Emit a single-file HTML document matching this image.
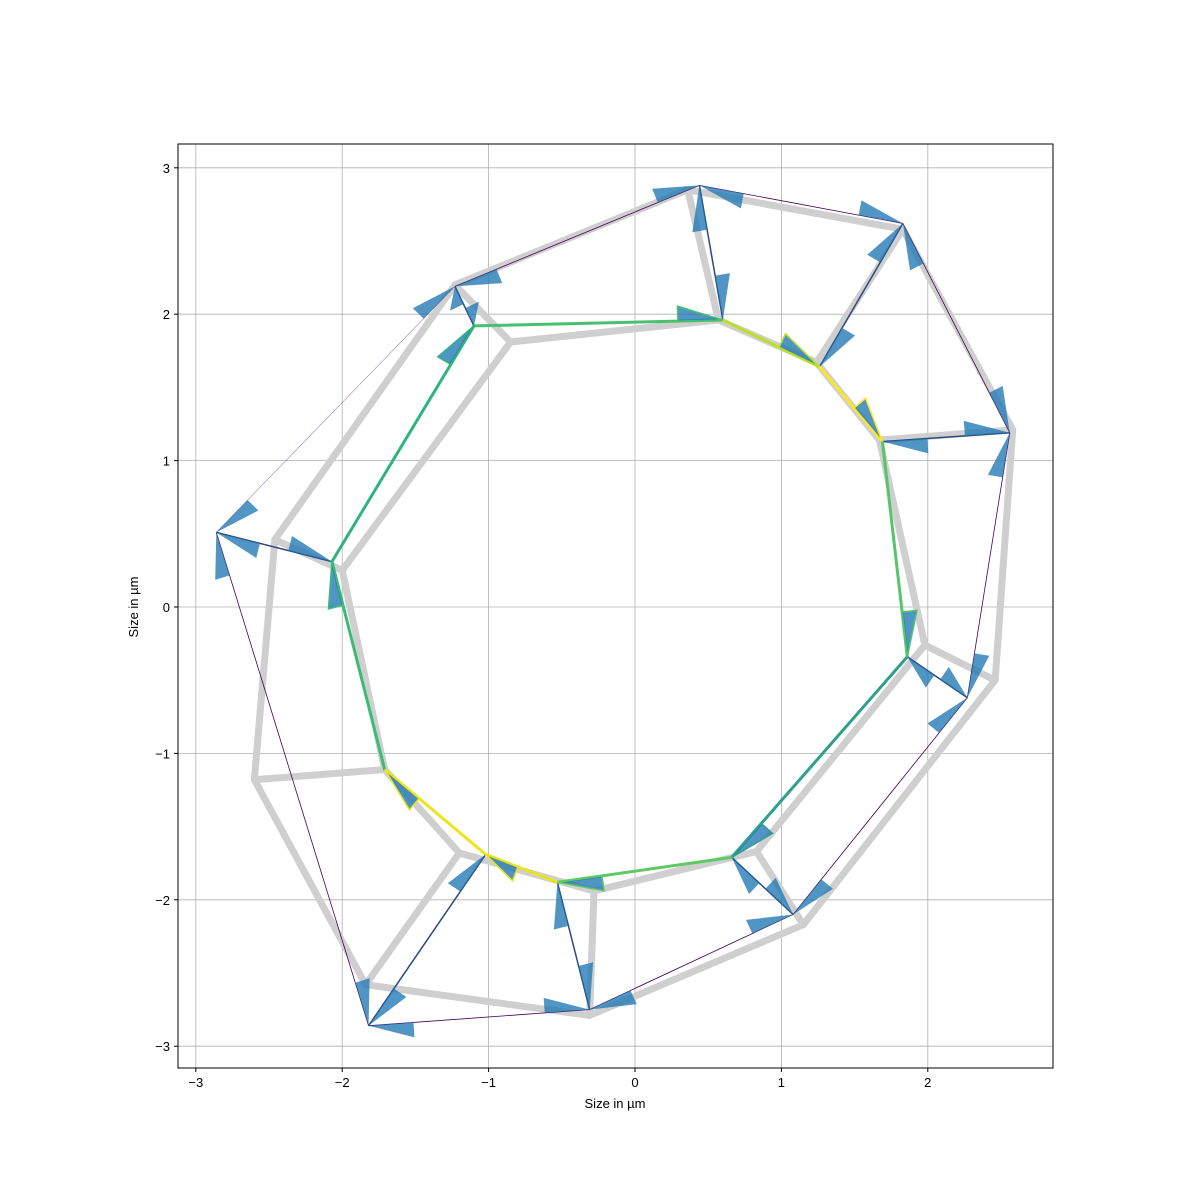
<!DOCTYPE html>
<html><head><meta charset="utf-8"><style>
body{margin:0;background:#fff}
svg{display:block;font-family:"Liberation Sans","DejaVu Sans",sans-serif}
</style></head><body>
<svg id="chart" width="1200" height="1200" viewBox="0 0 1200 1200">
<rect width="1200" height="1200" fill="#fff"/>
<g id="grid"></g>
<g id="grey"></g>
<g id="edges"></g>
<g id="arrows"></g>
<rect x="178" y="144" width="875" height="924" fill="none" stroke="#000" stroke-width="1"/>
<g id="ticks"></g>
<text x="615" y="1108" text-anchor="middle" font-size="13">Size in µm</text>
<text x="138" y="607" text-anchor="middle" font-size="13" transform="rotate(-90 138 607)">Size in µm</text>
</svg>
<script>
const xTicks=[-3,-2,-1,0,1,2];
const yTicks=[-3,-2,-1,0,1,2,3];
const greyOuterX=[-1.23,0.36,1.83,2.58,2.46,1.15,-0.31,-1.84,-2.60,-2.46];
const greyOuterY=[2.20,2.85,2.58,1.21,-0.50,-2.17,-2.79,-2.58,-1.18,0.46];
const greyInnerX=[-0.85,0.57,1.24,1.67,1.98,0.83,-0.28,-1.20,-1.71,-2.00];
const greyInnerY=[1.81,1.96,1.67,1.14,-0.26,-1.67,-1.94,-1.68,-1.11,0.25];
const innerX=[-1.10,0.60,1.26,1.69,1.86,0.66,-0.53,-1.02,-1.71,-2.07];
const innerY=[1.92,1.96,1.64,1.13,-0.34,-1.71,-1.88,-1.69,-1.11,0.31];
const innerColors=["#48c16e","#bddf26","#fde725","#54c568","#2fa08a","#5ec962","#e8e419","#f0e51c","#3bbb75","#2fb47c"];
const outerX=[-1.23,0.44,1.83,2.56,2.27,1.08,-0.31,-1.82,-2.86];
const outerY=[2.19,2.88,2.62,1.19,-0.62,-2.10,-2.75,-2.86,0.51];
const radialOuter=[0,1,2,3,4,5,6,7,8];
const radialInner=[0,1,2,3,4,5,6,7,9];
const NS="http://www.w3.org/2000/svg";
const X0=178,X1=1053,Y0=144,Y1=1068;
function sx(v){return 635+v*146.4;}
function sy(v){return 607-v*146.4;}
function mk(tag,parent,attrs){const e=document.createElementNS(NS,tag);for(const k in attrs)e.setAttribute(k,attrs[k]);document.getElementById(parent).appendChild(e);return e;}
xTicks.forEach(t=>{
 let l=mk('line','grid',{x1:sx(t),x2:sx(t),y1:Y0,y2:Y1,stroke:'#b0b0b0','stroke-width':0.8});
 
 
 let k=mk('line','ticks',{x1:sx(t),x2:sx(t),y1:Y1,y2:Y1+4,stroke:'#000'});
 
 
 let s=mk('text','ticks',{x:sx(t),y:Y1+19,'text-anchor':'middle','font-size':13});
 
 
 s.textContent=t<0?'\u2212'+(-t):t;
});
yTicks.forEach(t=>{
 let l=mk('line','grid',{y1:sy(t),y2:sy(t),x1:X0,x2:X1,stroke:'#b0b0b0','stroke-width':0.8});
 
 
 let k=mk('line','ticks',{y1:sy(t),y2:sy(t),x1:X0-4,x2:X0,stroke:'#000'});
 
 
 let s=mk('text','ticks',{x:X0-8,y:sy(t)+5,'text-anchor':'end','font-size':13});
 
 
 s.textContent=t<0?'\u2212'+(-t):t;
});
function ring(xs,ys){return xs.map((x,i)=>sx(x)+','+sy(ys[i])).join(' ');}
let go=mk('polygon','grey',{points:ring(greyOuterX,greyOuterY),fill:'none',stroke:'#cfcfcf','stroke-width':7,'stroke-linejoin':'round'});


let gi=mk('polygon','grey',{points:ring(greyInnerX,greyInnerY),fill:'none',stroke:'#cfcfcf','stroke-width':7,'stroke-linejoin':'round'});


greyOuterX.forEach((x,i)=>{
 let l=mk('line','grey',{x1:sx(x),y1:sy(greyOuterY[i]),x2:sx(greyInnerX[i]),y2:sy(greyInnerY[i]),stroke:'#cfcfcf','stroke-width':7,'stroke-linecap':'round'});
 
 
});
const darkEdges=[];
outerX.forEach((x,i)=>{const j=(i+1)%outerX.length;darkEdges.push([sx(x),sy(outerY[i]),sx(outerX[j]),sy(outerY[j])]);
 let l=mk('line','edges',{x1:sx(x),y1:sy(outerY[i]),x2:sx(outerX[j]),y2:sy(outerY[j]),stroke:'#440154','stroke-width':i==8?0.4:0.8});
 
 
});
radialOuter.forEach((o,k)=>{const n=radialInner[k];
 darkEdges.push([sx(outerX[o]),sy(outerY[o]),sx(innerX[n]),sy(innerY[n])]);
 let l=mk('line','edges',{x1:sx(outerX[o]),y1:sy(outerY[o]),x2:sx(innerX[n]),y2:sy(innerY[n]),stroke:'#2c4a7e','stroke-width':1.5});
 
 
});
const colEdges=[];
innerX.forEach((x,i)=>{const j=(i+1)%innerX.length;colEdges.push([sx(x),sy(innerY[i]),sx(innerX[j]),sy(innerY[j]),innerColors[i]]);
 let l=mk('line','edges',{x1:sx(x),y1:sy(innerY[i]),x2:sx(innerX[j]),y2:sy(innerY[j]),stroke:innerColors[i],'stroke-width':3,'stroke-linecap':'round'});
 
 
});
function half(tx,ty,fx,fy,fill,stroke){
 const dx=fx-tx,dy=fy-ty,L=Math.hypot(dx,dy),ux=dx/L,uy=dy/L;
 const len=Math.min(45,L*0.45);
 const bx=tx+ux*len,by=ty+uy*len;
 // left side of travel direction (travel = -u)
 const px=-uy,py=ux;
 const pts=[[tx,ty],[bx,by],[bx+px*15,by+py*15]];
 let p=mk('polygon','arrows',{points:pts.map(q=>q.join(',')).join(' '),fill:fill,'fill-opacity':0.78,stroke:stroke,'stroke-width':stroke=='none'?0:1.5});
 
 
}
darkEdges.forEach(e=>{half(e[0],e[1],e[2],e[3],'#1f77b4','none');half(e[2],e[3],e[0],e[1],'#1f77b4','none');});
colEdges.forEach(e=>{half(e[2],e[3],e[0],e[1],'#1f77b4',e[4]);});
</script>
</body></html>
